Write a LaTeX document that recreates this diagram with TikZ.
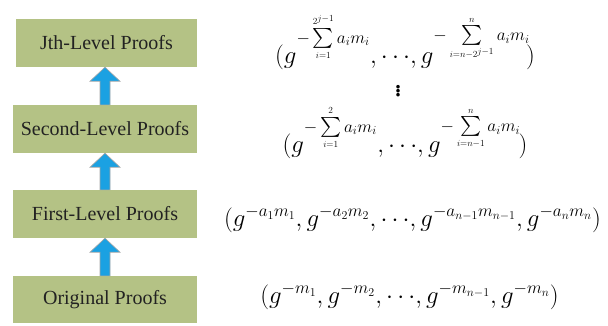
\documentclass[tikz,border=0pt]{standalone}
\usepackage{fontspec}
\setmainfont{Liberation Serif}
\usepackage{amsmath}
\usepackage{graphicx}
\usetikzlibrary{calc}
\definecolor{boxgreen}{HTML}{B4C285}
\definecolor{arrblue}{HTML}{1BA1E2}
\definecolor{txtgray}{HTML}{222222}
\tikzset{
  levelbox/.style={fill=boxgreen, draw=none, minimum height=48pt, inner sep=0pt,
    font=\fontsize{20}{24}\selectfont, text=txtgray},
  blockarrow/.style={fill=arrblue, draw=gray!70, line width=0.6pt, line join=miter},
  formula/.style={inner sep=0pt, font=\fontsize{26}{30}\selectfont, text=black}
}
\newcommand{\smlim}[1]{\hbox{\scalebox{0.78}{$\scriptscriptstyle #1$}}}
\newcommand{\bigS}[2]{\mathop{\hbox{\scalebox{0.8}{$\textstyle\sum$}}}\limits_{\smlim{#1}}^{\smlim{#2}}}
\newcommand{\dts}{{\cdots}}
\newcommand{\uparrowblock}[2]{%
  \draw[blockarrow] let \p1=(#1.north), \p2=(#2.south) in
    (\x1-5pt,\y1) -- (\x1-5pt,\y2-14pt) -- (\x1-15pt,\y2-14pt) -- (\x1,\y2)
    -- (\x1+15pt,\y2-14pt) -- (\x1+5pt,\y2-14pt) -- (\x1+5pt,\y1) -- cycle;}
\begin{document}
\begin{tikzpicture}[x=1pt,y=-1pt]
\useasboundingbox[fill=white] (0,0) rectangle (608,325);
% boxes
\node[levelbox, minimum width=181pt] (jth) at (106.5,43) {Jth-Level Proofs};
\node[levelbox, minimum width=184pt] (second) at (105,129) {Second-Level Proofs};
\node[levelbox, minimum width=184pt] (first) at (105,214) {First-Level Proofs};
\node[levelbox, minimum width=184pt, minimum height=47pt] (orig) at (105,299.5) {Original Proofs};
% arrows
\uparrowblock{second}{jth}
\uparrowblock{first}{second}
\uparrowblock{orig}{first}
% formulas
\node[formula, anchor=base] (fj) at (405,63)
  {$(g^{-\bigS{i=1}{2^{j-1}} a_i m_i},\dts,g^{-\bigS{i=n-2^{j-1}}{n} a_i m_i}\kern-4pt)$};
\node[formula, font=\fontsize{30}{34}\selectfont] (dots) at (398,88) {$\vdots$};
\node[formula, anchor=base] (f2) at (405,152)
  {$(g^{-\bigS{i=1}{2} a_i m_i},\dts,g^{-\bigS{i=n-1}{n} a_i m_i}\kern-2pt)$};
\node[formula, anchor=base] (f1) at (412.5,226)
  {$(g^{-a_1m_1},g^{-a_2m_2},\dts,g^{-a_{n-1}m_{n-1}},g^{-a_nm_n})$};
\node[formula, anchor=base] (f0) at (409.5,303)
  {$(g^{-m_1},g^{-m_2},\dts,g^{-m_{n-1}},g^{-m_n})$};
\end{tikzpicture}
\end{document}
